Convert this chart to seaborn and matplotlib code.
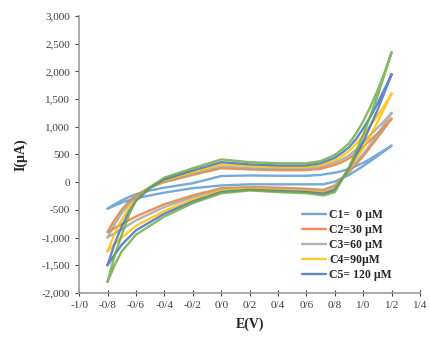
import pandas as pd
import matplotlib.pyplot as plt
import seaborn as sns
import numpy as np
from matplotlib.ticker import FuncFormatter

sns.set_theme(style="white")
plt.rcParams['font.family'] = ['Liberation Serif', 'DejaVu Serif']

# potenziali (V): andata e ritorno del ciclo
E_fwd = [-0.8, -0.75, -0.7, -0.65, -0.6, -0.5, -0.4, -0.2, 0.0, 0.2, 0.4, 0.6, 0.7,
         0.8, 0.85, 0.9, 0.95, 1.0, 1.05, 1.1, 1.15, 1.2]
E_rev = [1.2, 1.1, 1.0, 0.9, 0.8, 0.72, 0.6, 0.4, 0.2, 0.0, -0.2, -0.4, -0.6, -0.7, -0.75, -0.8]

# correnti (uA)
C1_fwd = [-480, -400, -330, -270, -220, -150, -100, -20, 110, 120, 115, 115, 130,
          170, 200, 240, 290, 350, 420, 500, 580, 660]
C1_rev = [660, 470, 290, 130, 10, -40, -40, -40, -40, -60, -110, -190, -290, -370, -425, -480]
C2_fwd = [-900, -680, -500, -350, -240, -90, 0, 130, 250, 230, 215, 215, 240,
          310, 360, 430, 520, 640, 760, 880, 1010, 1150]
C2_rev = [1150, 800, 470, 180, -60, -140, -120, -100, -90, -110, -240, -400, -620, -760, -830, -900]
C3_fwd = [-1000, -760, -560, -400, -270, -100, 10, 150, 280, 250, 240, 240, 270,
          350, 410, 480, 590, 720, 850, 980, 1110, 1250]
C3_rev = [1250, 860, 510, 200, -80, -160, -140, -120, -110, -130, -270, -450, -690, -850, -925, -1000]
C4_fwd = [-1250, -930, -680, -470, -310, -100, 30, 180, 320, 290, 270, 270, 300,
          390, 470, 560, 690, 850, 1020, 1200, 1390, 1600]
C4_rev = [1600, 1080, 610, 230, -110, -190, -160, -140, -120, -150, -310, -520, -790, -1000, -1120, -1250]
C5_fwd = [-1500, -1110, -800, -540, -340, -100, 50, 210, 360, 320, 300, 300, 340,
          440, 530, 630, 780, 970, 1180, 1420, 1680, 1950]
C5_rev = [1950, 1300, 730, 250, -140, -210, -180, -160, -140, -180, -350, -570, -870, -1130, -1310, -1500]
C6_fwd = [-1800, -1320, -950, -600, -320, -90, 80, 250, 410, 360, 340, 340, 380,
          490, 590, 700, 880, 1100, 1360, 1650, 1980, 2350]
C6_rev = [2350, 1550, 850, 270, -180, -240, -200, -180, -150, -200, -380, -620, -950, -1250, -1500, -1800]

series_labels = ["C1=  0 \u00b5M", "C2=30 \u00b5M", "C3=60 \u00b5M", "C4=90\u00b5M", "C5= 120 \u00b5M", "C6"]
colors = ["#5B9BD5", "#ED7D31", "#A5A5A5", "#FFC000", "#4472C4", "#70AD47"]

fwd = [C1_fwd, C2_fwd, C3_fwd, C4_fwd, C5_fwd, C6_fwd]
rev = [C1_rev, C2_rev, C3_rev, C4_rev, C5_rev, C6_rev]

rows = []
for lab, f, r in zip(series_labels, fwd, rev):
    for e, i in zip(E_fwd + E_rev, f + r):
        rows.append({"E": e, "I": i, "serie": lab})
df = pd.DataFrame(rows)

fig = plt.figure(figsize=(4.30, 3.39), dpi=100)
ax = fig.add_axes([0.184, 0.136, 0.793, 0.817])

sns.lineplot(data=df, x="E", y="I", hue="serie", palette=colors, sort=False,
             estimator=None, linewidth=1.7, alpha=0.85, legend=False, ax=ax)
for ln in ax.lines:
    ln.set_solid_joinstyle("round")

ax.set_xlim(-1.0, 1.4)
ax.set_ylim(-2000, 3000)
ax.set_xticks(np.arange(-1.0, 1.41, 0.2))
ax.set_yticks(np.arange(-2000, 3001, 500))
ax.xaxis.set_major_formatter(FuncFormatter(lambda v, p: f"{v:.1f}".replace("-0.0", "0.0").replace(".", "/")))
ax.yaxis.set_major_formatter(FuncFormatter(lambda v, p: f"{v:,.0f}"))
ax.tick_params(axis="both", labelsize=8, colors="#404040", length=3, width=0.8,
               direction="out", bottom=True, left=True)
ax.tick_params(axis="x", direction="inout", length=5)
for s in ["top", "right"]:
    ax.spines[s].set_visible(False)
for s in ["left", "bottom"]:
    ax.spines[s].set_color("#A0A0A0")

ax.set_xlabel("E(V)", fontsize=10, fontweight="bold", labelpad=5)
ax.set_ylabel("I(\u00b5A)", fontsize=10, fontweight="bold", labelpad=10)

ax.legend(handles=ax.lines[:5], labels=series_labels[:5], loc="upper left",
          bbox_to_anchor=(0.64, 0.32), frameon=False,
          prop={"weight": "bold", "size": 8.5}, handlelength=2.0,
          handletextpad=0.3, labelspacing=0.25, borderaxespad=0)

plt.savefig("out.png", dpi=100)
